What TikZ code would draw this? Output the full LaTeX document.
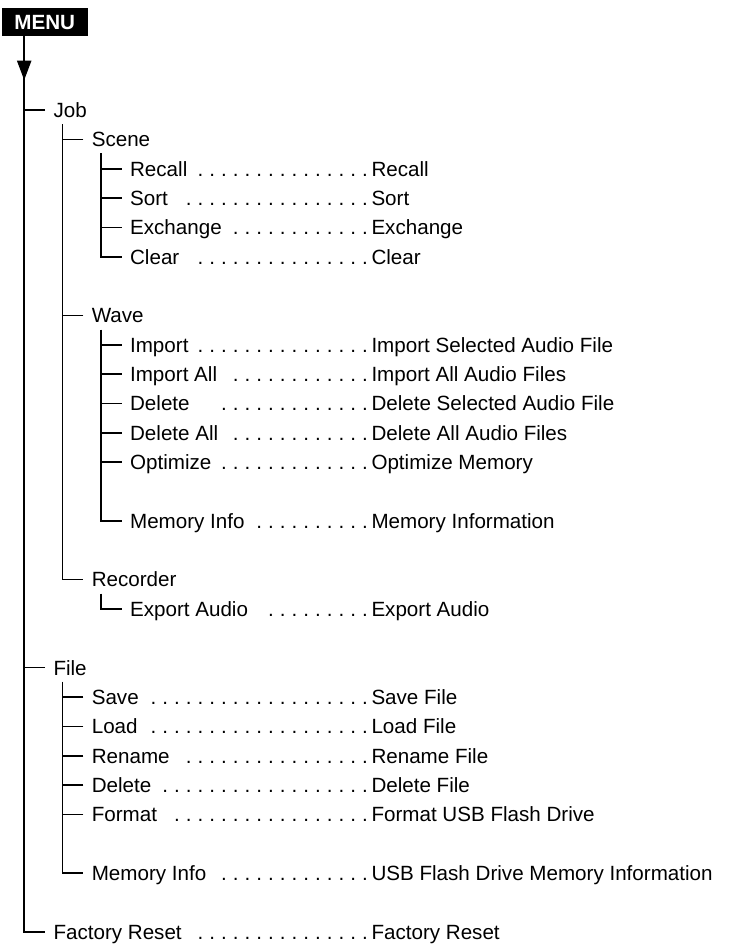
\documentclass[tikz,border=0pt]{standalone}
\usepackage{fontspec}
\setmainfont{Liberation Sans}
\usetikzlibrary{calc}
\newcommand\rowfont{\fontsize{20.6}{24}\selectfont}
\newcommand\dotrun[1]{\foreach \k in {1,...,#1}{\hbox to 11.75pt{\hss.\kern3.6pt}}}
% name, x, y, label, right text, number of leader dots
\newcommand\leaderrow[6]{%
  \node[lbl] (#1) at (#2,#3) {#4};
  \node[lbl] (#1r) at (371.5,#3) {#5};
  \node[lbl, anchor=east] (#1d) at (#1r.west) {\dotrun{#6}};
}
\begin{document}
\begin{tikzpicture}[x=1pt,y=-1pt,
  lbl/.style={font=\rowfont, inner sep=0pt, outer sep=0pt, anchor=west, text height=19.1pt, text depth=4.4pt},
  menubox/.style={fill=black, text=white, font=\rowfont\bfseries, minimum width=86pt, minimum height=27.7pt, inner sep=0pt, outer sep=0pt},
  tree/.style={line width=1.6pt}]
\useasboundingbox (0,0) rectangle (730,947);

\node[menubox] (menu) at (44.7,22.15) {MENU};

% level 1
\node[lbl] (job) at (53.5,110) {Job};
\node[lbl] (file) at (53.5,667.65) {File};
\leaderrow{reset}{53.5}{931.8}{Factory Reset}{Factory Reset}{15}

% level 2
\node[lbl] (scene) at (91.8,139.35) {Scene};
\node[lbl] (wave) at (91.8,315.45) {Wave};
\node[lbl] (rec) at (91.8,579.6) {Recorder};
\leaderrow{save}{91.8}{697}{Save}{Save File}{19}
\leaderrow{load}{91.8}{726.35}{Load}{Load File}{19}
\leaderrow{rename}{91.8}{755.7}{Rename}{Rename File}{16}
\leaderrow{fdel}{91.8}{785.05}{Delete}{Delete File}{18}
\leaderrow{format}{91.8}{814.4}{Format}{Format USB Flash Drive}{17}
\leaderrow{fmem}{91.8}{873.1}{Memory Info}{USB Flash Drive Memory Information}{13}

% level 3
\leaderrow{recall}{130.1}{168.7}{Recall}{Recall}{15}
\leaderrow{sort}{130.1}{198.05}{Sort}{Sort}{16}
\leaderrow{exch}{130.1}{227.4}{Exchange}{Exchange}{12}
\leaderrow{clear}{130.1}{256.75}{Clear}{Clear}{15}
\leaderrow{imp}{130.1}{344.8}{Import}{Import Selected Audio File}{15}
\leaderrow{impall}{130.1}{374.15}{Import All}{Import All Audio Files}{12}
\leaderrow{del}{130.1}{403.5}{Delete}{Delete Selected Audio File}{13}
\leaderrow{delall}{130.1}{432.85}{Delete All}{Delete All Audio Files}{12}
\leaderrow{opt}{130.1}{462.2}{Optimize}{Optimize Memory}{13}
\leaderrow{wmem}{130.1}{520.9}{Memory Info}{Memory Information}{10}
\leaderrow{export}{130.1}{608.95}{Export Audio}{Export Audio}{9}

% main spine with arrow
\draw[tree] ($(menu.south west)+(22.5,0)$) |- ($(reset.west)+(-8.5,0)$);
\fill ($(menu.south west)+(22.5,24.7)$) -- ++(7.3,0) -- ++(-7.3,19.3) -- ++(-7.3,-19.3) -- cycle;
\foreach \c in {job,file}
  \draw[tree] ($(\c.west)+(-8.5,0)$) -- ++(-20.8,0);

% Job spine
\draw[tree] ($(job.south west)+(9,2.3)$) |- ($(rec.west)+(-8.5,0)$);
\foreach \c in {scene,wave}
  \draw[tree] ($(\c.west)+(-8.5,0)$) -- ++(-20.8,0);

% Scene spine
\draw[tree] ($(scene.south west)+(9,2.3)$) |- ($(clear.west)+(-8.5,0)$);
\foreach \c in {recall,sort,exch}
  \draw[tree] ($(\c.west)+(-8.5,0)$) -- ++(-20.8,0);

% Wave spine
\draw[tree] ($(wave.south west)+(9,2.3)$) |- ($(wmem.west)+(-8.5,0)$);
\foreach \c in {imp,impall,del,delall,opt}
  \draw[tree] ($(\c.west)+(-8.5,0)$) -- ++(-20.8,0);

% Recorder spine
\draw[tree] ($(rec.south west)+(9,2.3)$) |- ($(export.west)+(-8.5,0)$);

% File spine
\draw[tree] ($(file.south west)+(9,2.3)$) |- ($(fmem.west)+(-8.5,0)$);
\foreach \c in {save,load,rename,fdel,format}
  \draw[tree] ($(\c.west)+(-8.5,0)$) -- ++(-20.8,0);
\end{tikzpicture}
\end{document}
